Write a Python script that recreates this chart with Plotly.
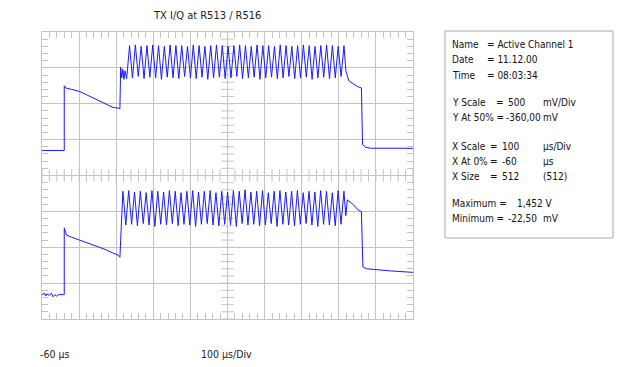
import plotly.graph_objects as go

# ---------------- data (time in µs, level in V) ----------------
x_range = [-60, 940]          # X At 0% = -60 µs, 100 µs/Div, 10 div
y_range = [-2.36, 1.64]       # Y At 50% = -360 mV, 500 mV/Div, 8 div
x_div, y_div = 100, 0.5
x_minor, y_minor = 20, 0.1
x_center, y_center = 440, -0.36

# upper trace (Active Channel 1)
top_pre_t = [-60, -45, -30, -15, -1]
top_pre_v = [-0.012, -0.010, -0.014, -0.010, -0.012]
top_ramp_t = [0, 0, 4, 20, 42, 62, 87, 108, 131, 145, 150]
top_ramp_v = [-0.012, 0.89, 0.86, 0.84, 0.81, 0.76, 0.70, 0.65, 0.59, 0.58, 0.57]
top_lead_t = [152, 155, 158, 161, 164]
top_lead_v = [1.15, 1.00, 1.12, 0.98, 1.10]
top_osc_t0, top_osc_half = 168.2, 7.81
top_troughs = [0.99, 1.00, 1.02, 0.99, 1.01, 1.00, 0.98, 1.01, 1.00, 0.99,
               1.02, 1.00, 0.99, 1.01, 0.98, 1.00, 1.01, 0.99, 1.00, 1.02,
               0.99, 1.00, 1.01, 0.98, 1.00, 1.01, 0.99, 1.00, 1.02, 0.99,
               1.00, 1.01, 0.98, 1.00, 1.01, 0.99, 1.00, 1.02]
top_peaks = [1.45, 1.46, 1.44, 1.45, 1.46, 1.45, 1.44, 1.46, 1.45, 1.45,
             1.44, 1.46, 1.45, 1.44, 1.45, 1.46, 1.45, 1.44, 1.45, 1.46,
             1.45, 1.44, 1.46, 1.45, 1.45, 1.44, 1.46, 1.45, 1.44, 1.45,
             1.46, 1.45, 1.44, 1.45, 1.46, 1.45, 1.44, 1.45]
top_tail_t = [759, 767, 780, 790, 801, 804, 812, 825, 850, 880, 910, 940]
top_tail_v = [1.10, 0.96, 0.91, 0.88, 0.86, 0.07, 0.035, 0.02, 0.02, 0.015, 0.02, 0.018]

# lower trace
bot_pre_t = [-60, -53, -50, -47, -40, -35, -30, -25, -21, -15, -1]
bot_pre_v = [-2.02, -2.00, -2.04, -2.01, -2.03, -2.00, -2.05, -2.02, -2.04, -2.02, -2.02]
bot_ramp_t = [0, 0, 3, 6, 20, 42, 65, 87, 110, 131, 145, 150]
bot_ramp_v = [-2.02, -1.09, -1.16, -1.19, -1.22, -1.26, -1.30, -1.345, -1.39, -1.44, -1.47, -1.50]
bot_osc_t0, bot_osc_half = 158.0, 7.84
bot_peaks = [-0.58, -0.57, -0.59, -0.58, -0.60, -0.57, -0.58, -0.59, -0.57, -0.58,
             -0.60, -0.58, -0.57, -0.59, -0.58, -0.57, -0.60, -0.58, -0.59, -0.57,
             -0.58, -0.56, -0.59, -0.58, -0.57, -0.60, -0.58, -0.57, -0.59, -0.58,
             -0.57, -0.60, -0.58, -0.59, -0.57, -0.58, -0.60, -0.57, -0.58]
bot_troughs = [-1.05, -1.04, -1.06, -1.03, -1.05, -1.07, -1.04, -1.05, -1.03, -1.06,
               -1.04, -1.05, -1.07, -1.04, -1.03, -1.05, -1.06, -1.04, -1.05, -1.07,
               -1.03, -1.05, -1.04, -1.06, -1.05, -1.03, -1.07, -1.04, -1.05, -1.06,
               -1.04, -1.03, -1.05, -1.07, -1.04, -1.05, -1.06, -1.04]
bot_tail_t = [759, 763, 778, 792, 801, 805, 815, 850, 880, 910, 940]
bot_tail_v = [-0.92, -0.70, -0.76, -0.84, -0.865, -1.635, -1.66, -1.68, -1.69, -1.70, -1.71]

info_rows = [
    [("Name", 450), ("= Active Channel 1", 485)],
    [("Date", 450), ("= 11.12.00", 485)],
    [("Time", 450), ("= 08:03:34", 485)],
    [("Y Scale", 450), ("=", 494), ("500", 506), ("mV/Div", 541)],
    [("Y At 50% =", 450), ("-360,00", 504), ("mV", 541)],
    [("X Scale", 450), ("=", 488), ("100", 500), ("µs/Div", 541)],
    [("X At 0%", 450), ("=", 488), ("-60", 500), ("µs", 541)],
    [("X Size", 450), ("=", 488), ("512", 500), ("(512)", 541)],
    [("Maximum =", 450), ("1,452 V", 515)],
    [("Minimum =", 450), ("-22,50", 506), ("mV", 541)],
]
info_y = [45, 60, 75, 102, 117, 146, 161, 176, 203, 218]

# ---------------- build traces ----------------
def osc(t0, half, first, second):
    vals = []
    for a, b in zip(first, second):
        vals += [a, b]
    if len(first) > len(second):
        vals.append(first[-1])
    ts = [t0 + i * half for i in range(len(vals))]
    return ts, vals

tt, tv = osc(top_osc_t0, top_osc_half, top_troughs, top_peaks)
top_t = top_pre_t + top_ramp_t + top_lead_t + tt + top_tail_t
top_v = top_pre_v + top_ramp_v + top_lead_v + tv + top_tail_v

bt, bv = osc(bot_osc_t0, bot_osc_half, bot_peaks, bot_troughs)
bot_t = bot_pre_t + bot_ramp_t + bt + bot_tail_t
bot_v = bot_pre_v + bot_ramp_v + bv + bot_tail_v

GRID = "#c4c4c4"
BLUE = "#1a1aff"
FONT = "DejaVu Sans Condensed, Liberation Sans Narrow, Arial Narrow, sans-serif"

fig = go.Figure()

# centre-axis ticks
cx = [x_range[0] + i * x_minor for i in range(int((x_range[1] - x_range[0]) / x_minor) + 1)]
cy = [y_range[0] + i * y_minor for i in range(int(round((y_range[1] - y_range[0]) / y_minor)) + 1)]
fig.add_trace(go.Scatter(x=cx, y=[y_center] * len(cx), mode="markers",
                         marker=dict(symbol="line-ns", size=9, line=dict(width=1, color=GRID)),
                         hoverinfo="skip", showlegend=False))
fig.add_trace(go.Scatter(x=[x_center] * len(cy), y=cy, mode="markers",
                         marker=dict(symbol="line-ew", size=9, line=dict(width=1, color=GRID)),
                         hoverinfo="skip", showlegend=False))

fig.add_trace(go.Scatter(x=top_t, y=top_v, mode="lines", line=dict(color=BLUE, width=1),
                         showlegend=False))
fig.add_trace(go.Scatter(x=bot_t, y=bot_v, mode="lines", line=dict(color=BLUE, width=1),
                         showlegend=False))

L, T, W, H = 42, 32, 371, 287
def px(x):
    return (x - L) / W
def py(y):
    return (T + H - y) / H

ann = []
ann.append(dict(text="TX I/Q at R513 / R516", x=px(207), y=py(15), xref="paper", yref="paper",
                xanchor="center", yanchor="middle", showarrow=False,
                font=dict(family=FONT, size=11, color="#222")))
ann.append(dict(text="-60 µs", x=px(38), y=py(354), xref="paper", yref="paper",
                xanchor="left", yanchor="middle", showarrow=False,
                font=dict(family=FONT, size=10.5, color="#222")))
ann.append(dict(text="100 µs/Div", x=px(199), y=py(354), xref="paper", yref="paper",
                xanchor="left", yanchor="middle", showarrow=False,
                font=dict(family=FONT, size=10.5, color="#222")))
for row, yy in zip(info_rows, info_y):
    for txt, xx in row:
        ann.append(dict(text=txt, x=px(xx), y=py(yy), xref="paper", yref="paper",
                        xanchor="left", yanchor="middle", showarrow=False,
                        font=dict(family=FONT, size=10, color="#111")))

axis_common = dict(showgrid=True, gridcolor=GRID, gridwidth=1, zeroline=False,
                   showline=True, linecolor=GRID, linewidth=1, mirror="allticks",
                   ticks="inside", ticklen=6, tickcolor=GRID, showticklabels=False,
                   fixedrange=True)
fig.update_layout(
    width=629, height=367,
    margin=dict(l=L, r=629 - L - W, t=T, b=367 - T - H),
    paper_bgcolor="white", plot_bgcolor="white",
    xaxis=dict(range=x_range, tick0=x_range[0], dtick=x_div,
               minor=dict(tick0=x_range[0], dtick=x_minor, ticks="inside", ticklen=6,
                          tickcolor=GRID, showgrid=False),
               **axis_common),
    yaxis=dict(range=y_range, tick0=y_range[0], dtick=y_div,
               minor=dict(tick0=y_range[0], dtick=y_minor, ticks="inside", ticklen=6,
                          tickcolor=GRID, showgrid=False),
               **axis_common),
    annotations=ann,
    shapes=[dict(type="rect", xref="paper", yref="paper",
                 x0=px(445), x1=px(613), y0=py(238), y1=py(31),
                 line=dict(color="#a8a8a8", width=1))],
)

fig.write_html("out.html", config={"displayModeBar": False},
               post_script="document.body.style.margin='0';")
